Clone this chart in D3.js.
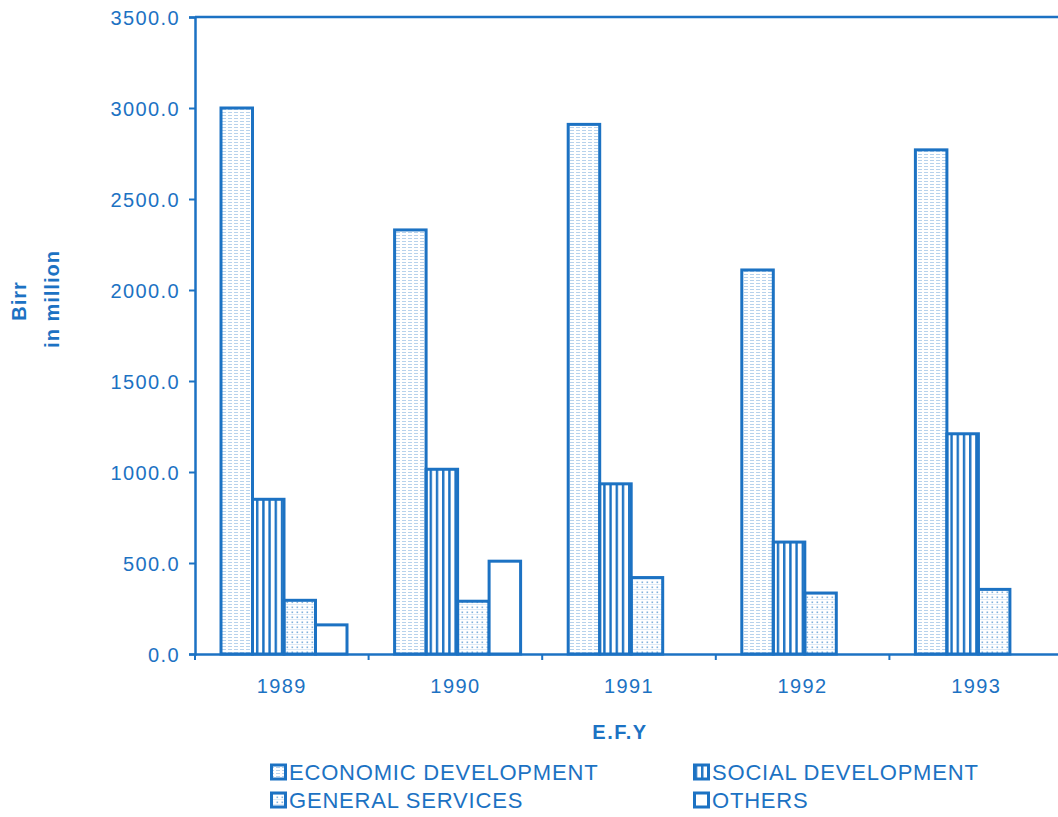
<!DOCTYPE html>
<html>
<head>
<meta charset="utf-8">
<title>Expenditure by E.F.Y</title>
<style>
  body { margin: 0; background: #fff; }
  svg { display: block; font-family: "Liberation Sans", Arial, sans-serif; }
</style>
<script src="https://cdn.jsdelivr.net/npm/d3@7/dist/d3.min.js"></script>
</head>
<body>
<svg id="chart" width="1058" height="817"></svg>
<script>
// data (Birr in million)
var years = ["1989", "1990", "1991", "1992", "1993"];
var series = ["ECONOMIC DEVELOPMENT", "SOCIAL DEVELOPMENT", "GENERAL SERVICES", "OTHERS"];
var economic = [3000, 2330, 2910, 2110, 2770];
var social = [850, 1015, 935, 615, 1210];
var general = [295, 290, 420, 335, 355];
var others = [160, 510, 0, 0, 0];
var yTicks = [0, 500, 1000, 1500, 2000, 2500, 3000, 3500];

var blue = "#1c72c3";
var svg = d3.select("#chart");

var plotLeft = 195, plotTop = 17, plotBottom = 654;
var bandW = 173.6;
var x = d3.scaleBand().domain(years).range([plotLeft, plotLeft + bandW * years.length]).padding(0);
var y = d3.scaleLinear().domain([0, 3500]).range([plotBottom, plotTop]);

// patterns
var defs = svg.append("defs");
var pe = defs.append("pattern").attr("id", "p0").attr("patternUnits", "userSpaceOnUse")
  .attr("width", 6).attr("height", 3);
pe.append("line").attr("x1", 0).attr("x2", 6).attr("y1", 1.5).attr("y2", 1.5)
  .attr("stroke", blue).attr("stroke-width", 0.8).attr("stroke-opacity", 0.4)
  .attr("stroke-dasharray", "4 2");

var ps = defs.append("pattern").attr("id", "p1").attr("patternUnits", "userSpaceOnUse")
  .attr("width", 6.2).attr("height", 10);
ps.append("line").attr("x1", 3).attr("x2", 3).attr("y1", 0).attr("y2", 10)
  .attr("stroke", blue).attr("stroke-width", 2.4);

var pg = defs.append("pattern").attr("id", "p2").attr("patternUnits", "userSpaceOnUse")
  .attr("width", 5).attr("height", 5);
pg.append("rect").attr("x", 1.5).attr("y", 1.5).attr("width", 1.6).attr("height", 1.6)
  .attr("fill", blue).attr("fill-opacity", 0.55);
pg.append("line").attr("x1", 0).attr("x2", 5).attr("y1", 4.5).attr("y2", 4.5)
  .attr("stroke", blue).attr("stroke-width", 0.5).attr("stroke-opacity", 0.3);

var fills = ["url(#p0)", "url(#p1)", "url(#p2)", "#fff"];
var allSeries = [economic, social, general, others];

// bars
var barW = 31.5, offset = 26;
var g = svg.append("g");
allSeries.forEach(function(vals, s) {
  var rows = years.map(function(yr, i) { return { year: yr, value: vals[i] }; })
    .filter(function(d) { return d.value > 0; });
  g.selectAll(".b" + s).data(rows).enter().append("rect")
    .attr("class", "b" + s)
    .attr("x", function(d) { return x(d.year) + offset + s * barW; })
    .attr("y", function(d) { return y(d.value); })
    .attr("width", barW)
    .attr("height", function(d) { return y(0) - y(d.value); })
    .attr("fill", fills[s])
    .attr("stroke", blue)
    .attr("stroke-width", 3);
});

// top border
svg.append("line").attr("x1", plotLeft).attr("x2", 1058).attr("y1", plotTop).attr("y2", plotTop)
  .attr("stroke", blue).attr("stroke-width", 2.5);

// y axis
var yAxis = svg.append("g").attr("transform", "translate(" + plotLeft + ",0)")
  .call(d3.axisLeft(y).tickValues(yTicks).tickFormat(d3.format(".1f")).tickSize(6).tickPadding(9));
yAxis.select(".domain").attr("stroke", blue).attr("stroke-width", 2.5);
yAxis.selectAll(".tick line").attr("stroke", blue).attr("stroke-width", 2);
yAxis.selectAll("text").attr("fill", blue).style("font-size", "20px")
  .style("letter-spacing", "1.4px").attr("dy", "0.36em");

// x axis
var xAxis = svg.append("g").attr("transform", "translate(0," + plotBottom + ")")
  .call(d3.axisBottom(x).tickSize(0).tickPadding(25));
xAxis.select(".domain").attr("stroke", blue).attr("stroke-width", 2.5);
xAxis.selectAll("text").attr("fill", blue).style("font-size", "20px").style("letter-spacing", "1.4px");
xAxis.selectAll(".sep").data(years.concat(["end"])).enter().append("line")
  .attr("x1", function(d, i) { return plotLeft + i * bandW; })
  .attr("x2", function(d, i) { return plotLeft + i * bandW; })
  .attr("y1", 0).attr("y2", 6)
  .attr("stroke", blue).attr("stroke-width", 2);

// axis titles
svg.append("text").attr("transform", "translate(26,301) rotate(-90)")
  .attr("text-anchor", "middle").attr("fill", blue)
  .style("font-size", "20px").style("font-weight", "bold").style("letter-spacing", "1px").text("Birr");
svg.append("text").attr("transform", "translate(59,299) rotate(-90)")
  .attr("text-anchor", "middle").attr("fill", blue)
  .style("font-size", "20px").style("font-weight", "bold").style("letter-spacing", "1px").text("in million");
svg.append("text").attr("x", 620).attr("y", 739)
  .attr("text-anchor", "middle").attr("fill", blue)
  .style("font-size", "20px").style("font-weight", "bold").style("letter-spacing", "1.5px").text("E.F.Y");

// legend
var legPos = [[270, 772], [693, 772], [270, 800], [693, 800]];
var leg = svg.append("g").selectAll("g").data(series).enter().append("g")
  .attr("transform", function(d, i) { return "translate(" + legPos[i][0] + "," + legPos[i][1] + ")"; });
leg.append("rect").attr("x", 1.5).attr("y", -7).attr("width", 14).attr("height", 14)
  .attr("fill", function(d, i) { return fills[i]; })
  .attr("stroke", blue).attr("stroke-width", 3);
leg.append("text").attr("x", 19).attr("dy", "0.36em").attr("fill", blue)
  .style("font-size", "22px").style("letter-spacing", "0.8px").text(function(d) { return d; });
</script>
</body>
</html>
